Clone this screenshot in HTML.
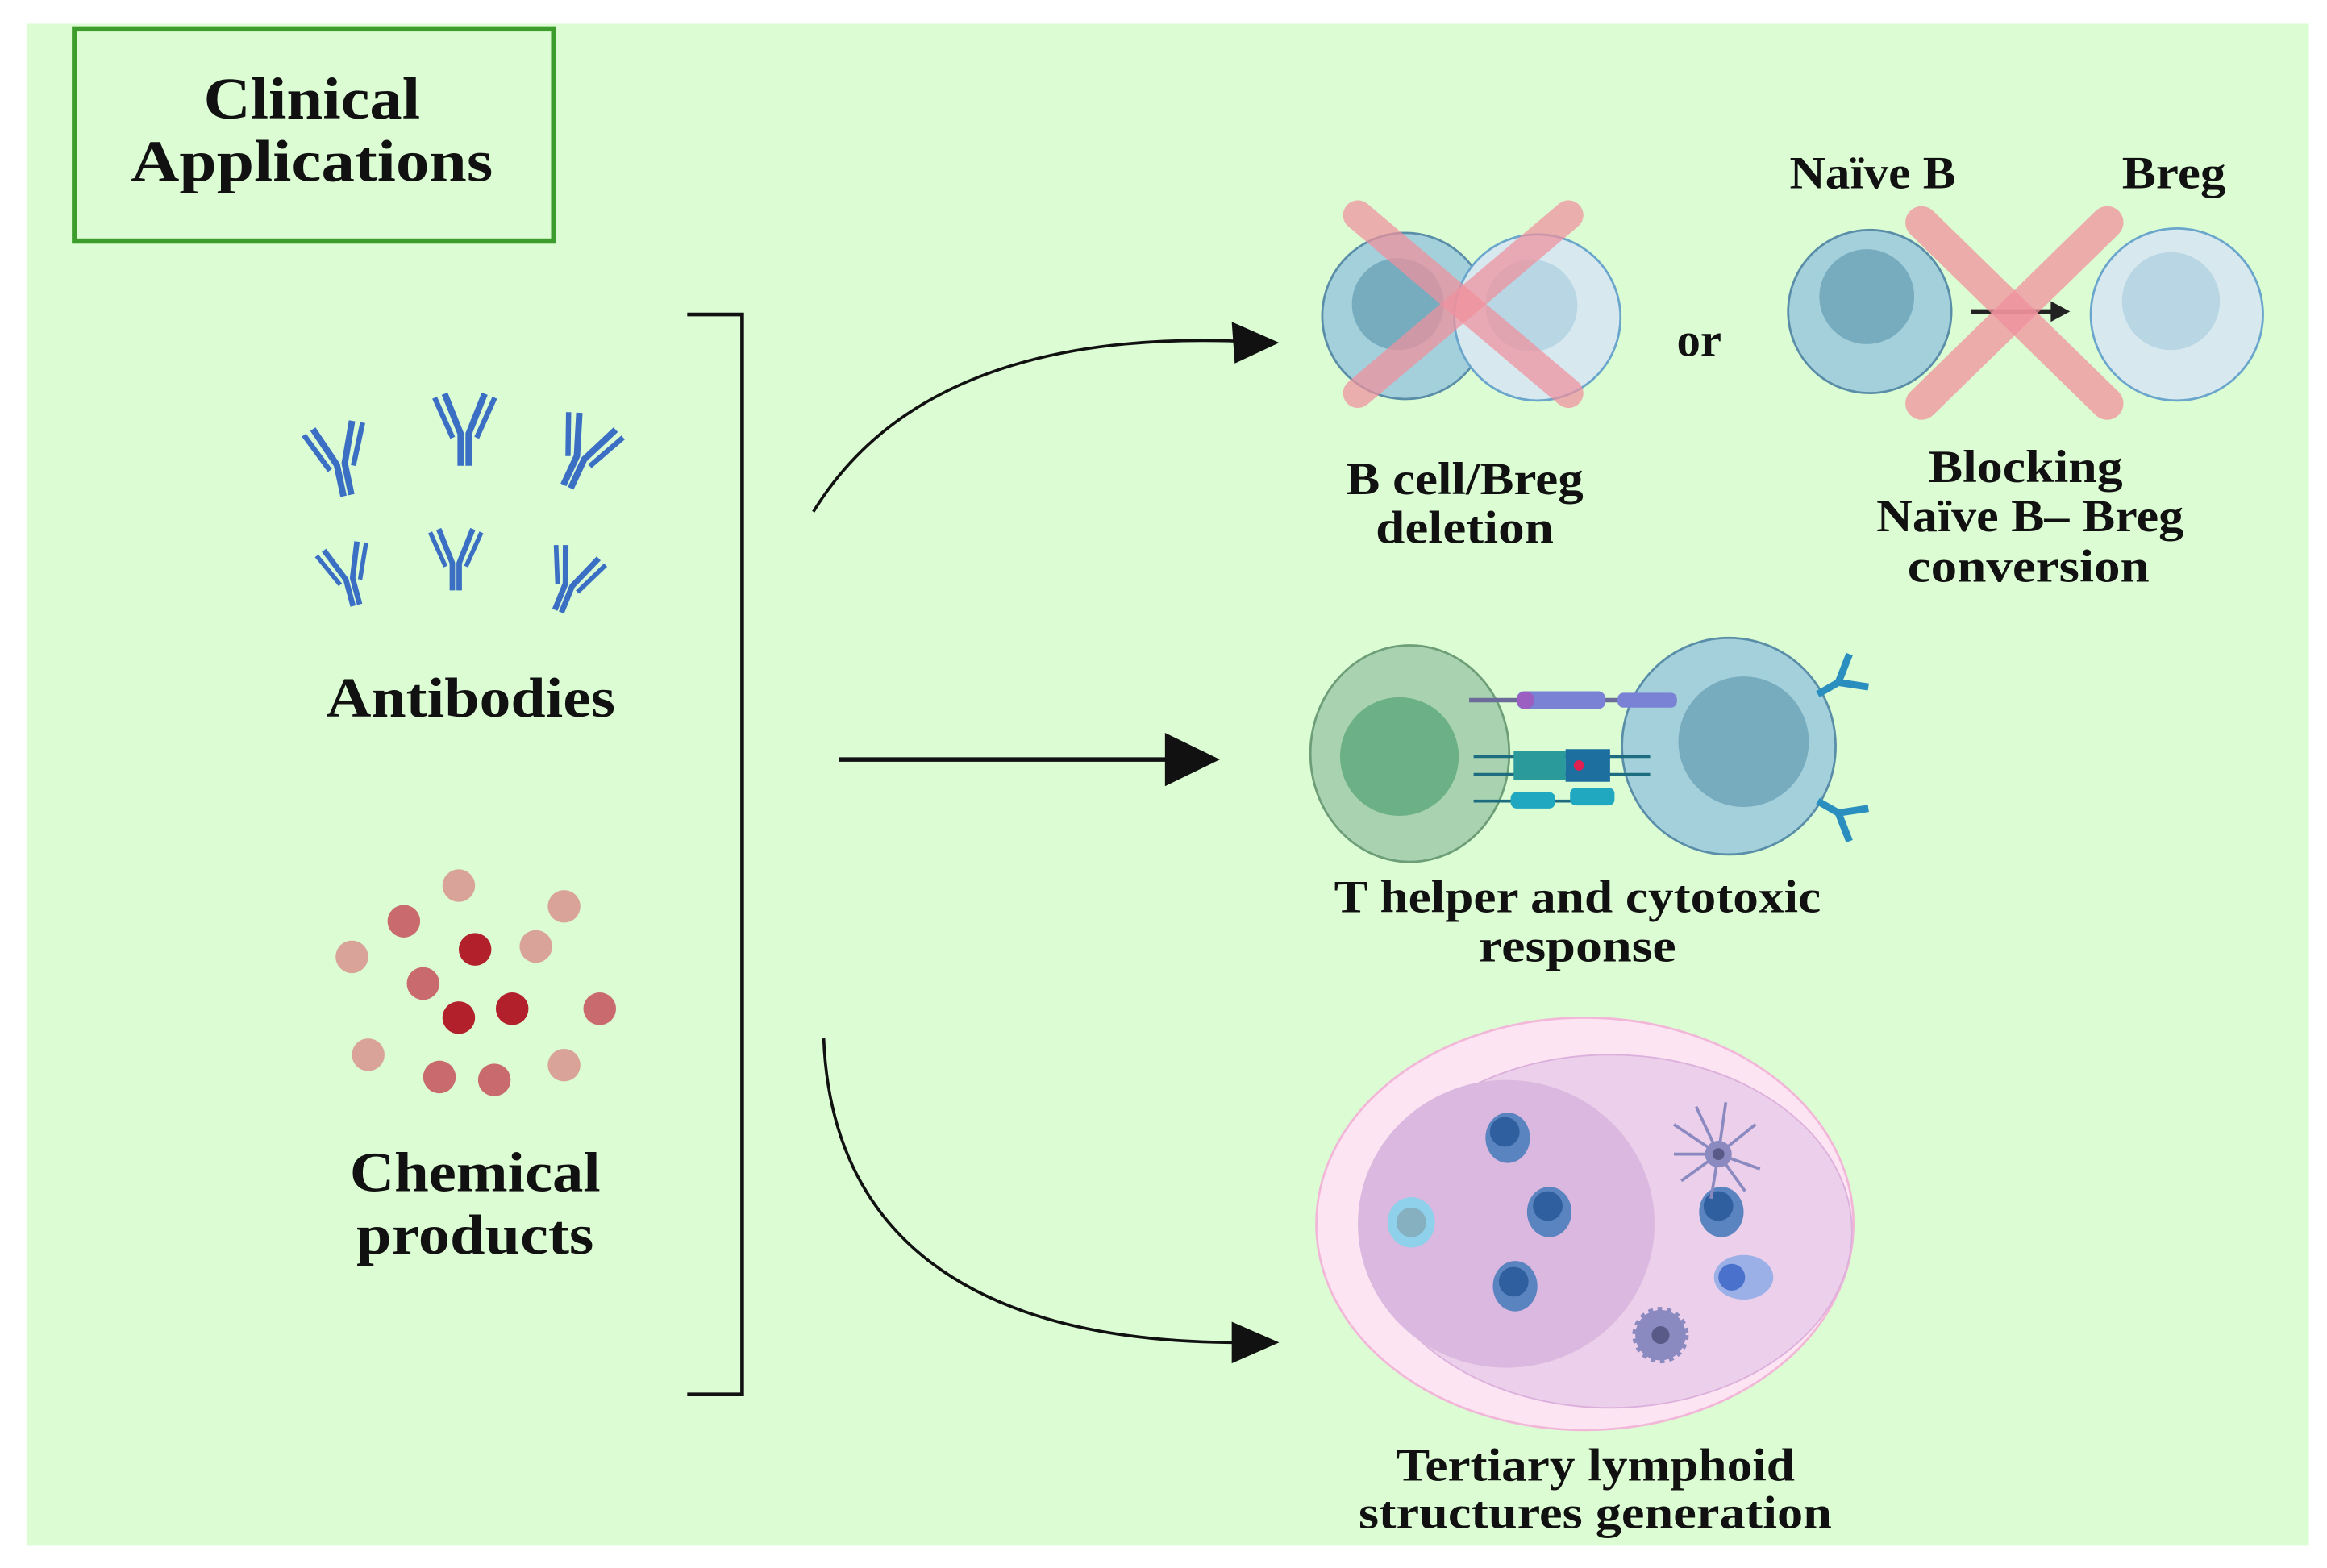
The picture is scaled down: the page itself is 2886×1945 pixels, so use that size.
<!DOCTYPE html>
<html><head><meta charset="utf-8"><style>
html,body{margin:0;padding:0;background:#fff;}
svg{display:block;}
text{font-family:"Liberation Serif",serif;fill:#111;text-anchor:middle;}
</style></head><body>
<svg width="2886" height="1945" viewBox="0 0 1568 1057" xmlns="http://www.w3.org/2000/svg">
<defs>
<g id="ab">
 <path d="M-2,0 L-2,-16 L-10,-36 M2,0 L2,-16 L10,-36" stroke="#3b6fc4" stroke-width="3.2" fill="none" stroke-linejoin="round"/>
 <path d="M-6,-14 L-15,-34 M6,-14 L15,-34" stroke="#3b6fc4" stroke-width="2.6" fill="none"/>
</g>
<g id="sab">
 <path d="M0,0 L0,-10 L-8,-20 M0,-10 L8,-20" stroke="#2a8fbf" stroke-width="3" fill="none"/>
</g>
</defs>
<rect x="18" y="16" width="1538" height="1026" fill="#dcfdd4"/>
<rect x="50" y="19.5" width="323" height="143" fill="none" stroke="#3c9c2c" stroke-width="3.5"/>
<text x="210" y="80" font-size="40" font-weight="bold" textLength="146" lengthAdjust="spacingAndGlyphs">Clinical</text>
<text x="210" y="122" font-size="40" font-weight="bold" textLength="244" lengthAdjust="spacingAndGlyphs">Applications</text>

<path d="M463,212 H500 V940 H463" fill="none" stroke="#111" stroke-width="2.5"/>

<!-- antibodies -->
<g transform="translate(234,334) rotate(-12) scale(1.35)"><use href="#ab"/></g>
<g transform="translate(313,314) scale(1.35)"><use href="#ab"/></g>
<g transform="translate(382,328) rotate(25) scale(1.35)"><use href="#ab"/></g>
<g transform="translate(240,408) rotate(-15) scale(1.15)"><use href="#ab"/></g>
<g transform="translate(307,398) scale(1.15)"><use href="#ab"/></g>
<g transform="translate(376,412) rotate(22) scale(1.2)"><use href="#ab"/></g>
<text x="317" y="483" font-size="38" font-weight="bold" textLength="195" lengthAdjust="spacingAndGlyphs">Antibodies</text>

<!-- chemical dots -->
<g>
<circle cx="309" cy="597" r="11" fill="#d9a39a"/>
<circle cx="380" cy="611" r="11" fill="#d9a39a"/>
<circle cx="272" cy="621" r="11" fill="#c96a6e"/>
<circle cx="237" cy="645" r="11" fill="#d9a39a"/>
<circle cx="320" cy="640" r="11" fill="#b2202c"/>
<circle cx="361" cy="638" r="11" fill="#d9a39a"/>
<circle cx="285" cy="663" r="11" fill="#c96a6e"/>
<circle cx="309" cy="686" r="11" fill="#b2202c"/>
<circle cx="345" cy="680" r="11" fill="#b2202c"/>
<circle cx="404" cy="680" r="11" fill="#c96a6e"/>
<circle cx="248" cy="711" r="11" fill="#d9a39a"/>
<circle cx="296" cy="726" r="11" fill="#c96a6e"/>
<circle cx="333" cy="728" r="11" fill="#c96a6e"/>
<circle cx="380" cy="718" r="11" fill="#d9a39a"/>
</g>
<text x="320" y="803" font-size="38" font-weight="bold" textLength="169" lengthAdjust="spacingAndGlyphs">Chemical</text>
<text x="320" y="845" font-size="38" font-weight="bold" textLength="160" lengthAdjust="spacingAndGlyphs">products</text>

<!-- arrows -->
<path d="M548,345 C600,260 700,225 835,230" fill="none" stroke="#111" stroke-width="2"/>
<polygon points="862,231 830,217 832,245" fill="#111"/>
<path d="M565,512 H795" fill="none" stroke="#111" stroke-width="3"/>
<polygon points="822,512 785,494 785,530" fill="#111"/>
<path d="M555,700 C560,830 650,905 835,905" fill="none" stroke="#111" stroke-width="2"/>
<polygon points="862,905 830,891 830,919" fill="#111"/>

<!-- deletion cells -->
<circle cx="947" cy="213" r="56" fill="#a4d0dc" stroke="#5a8ea8" stroke-width="1.5"/>
<circle cx="942" cy="205" r="31" fill="#77abbe"/>
<circle cx="1036" cy="214" r="56" fill="#d8e8ef" stroke="#6aa6cc" stroke-width="1.5"/>
<circle cx="1032" cy="206" r="31" fill="#b8d6e4"/>
<g stroke="#f0909c" stroke-opacity="0.72" stroke-width="20" stroke-linecap="round">
<line x1="915" y1="145" x2="1057" y2="265"/><line x1="1057" y1="145" x2="915" y2="265"/>
</g>
<text x="1145" y="240" font-size="32" font-weight="bold">or</text>
<!-- naive B / Breg -->
<circle cx="1260" cy="210" r="55" fill="#a4d0dc" stroke="#5a8ea8" stroke-width="1.5"/>
<circle cx="1258" cy="200" r="32" fill="#77abbe"/>
<circle cx="1467" cy="212" r="58" fill="#d8e8ef" stroke="#6aa6cc" stroke-width="1.5"/>
<circle cx="1463" cy="203" r="33" fill="#b8d6e4"/>
<line x1="1328" y1="210" x2="1385" y2="210" stroke="#222" stroke-width="3"/>
<polygon points="1395,210 1382,203 1382,217" fill="#222"/>
<g stroke="#f0909c" stroke-opacity="0.75" stroke-width="22" stroke-linecap="round">
<line x1="1295" y1="150" x2="1420" y2="272"/><line x1="1420" y1="150" x2="1295" y2="272"/>
</g>
<text x="1262" y="127" font-size="31" font-weight="bold" textLength="112" lengthAdjust="spacingAndGlyphs">Naïve B</text>
<text x="1465" y="127" font-size="31" font-weight="bold" textLength="70" lengthAdjust="spacingAndGlyphs">Breg</text>
<text x="987" y="333" font-size="31" font-weight="bold" textLength="160" lengthAdjust="spacingAndGlyphs">B cell/Breg</text>
<text x="987" y="366" font-size="31" font-weight="bold" textLength="120" lengthAdjust="spacingAndGlyphs">deletion</text>
<text x="1365" y="325" font-size="31" font-weight="bold" textLength="131" lengthAdjust="spacingAndGlyphs">Blocking</text>
<text x="1368" y="358" font-size="31" font-weight="bold" textLength="207" lengthAdjust="spacingAndGlyphs">Naïve B– Breg</text>
<text x="1367" y="392" font-size="31" font-weight="bold" textLength="163" lengthAdjust="spacingAndGlyphs">conversion</text>

<!-- T cell interaction -->
<ellipse cx="950" cy="508" rx="67" ry="73" fill="#a9d3b0" stroke="#6e9e78" stroke-width="1.5"/>
<circle cx="943" cy="510" r="40" fill="#6bb086"/>
<ellipse cx="1165" cy="503" rx="72" ry="73" fill="#a4d0dc" stroke="#5a8ea8" stroke-width="1.5"/>
<circle cx="1175" cy="500" r="44" fill="#77abbe"/>
<g>
<line x1="990" y1="472" x2="1130" y2="472" stroke="#6c6c9a" stroke-width="3"/>
<rect x="1022" y="466" width="60" height="12" rx="5" fill="#7a82d6"/>
<circle cx="1028" cy="472" r="6" fill="#9a5fc0"/>
<rect x="1090" y="467" width="40" height="10" rx="4" fill="#7a82d6"/>
<line x1="993" y1="510" x2="1112" y2="510" stroke="#1e6c80" stroke-width="2"/>
<line x1="993" y1="522" x2="1112" y2="522" stroke="#1e6c80" stroke-width="2"/>
<rect x="1020" y="506" width="35" height="20" fill="#2a9a9a"/>
<rect x="1055" y="505" width="30" height="22" fill="#1d6fa0"/>
<circle cx="1064" cy="516" r="3.5" fill="#e02050"/>
<line x1="993" y1="540" x2="1080" y2="540" stroke="#1e6c80" stroke-width="2"/>
<rect x="1018" y="534" width="30" height="11" rx="4" fill="#20a8c0"/>
<rect x="1058" y="531" width="30" height="12" rx="4" fill="#20a8c0"/>
</g>
<g transform="translate(1225,468) rotate(60) scale(1.6)"><use href="#sab"/></g>
<g transform="translate(1225,540) rotate(120) scale(1.6)"><use href="#sab"/></g>
<text x="1063" y="615" font-size="31" font-weight="bold" textLength="328" lengthAdjust="spacingAndGlyphs">T helper and cytotoxic</text>
<text x="1063" y="648" font-size="31" font-weight="bold" textLength="133" lengthAdjust="spacingAndGlyphs">response</text>

<!-- TLS -->
<ellipse cx="1068" cy="825" rx="181" ry="139" fill="#fde4f3" stroke="#f2b6d8" stroke-width="1.5"/>
<ellipse cx="1085" cy="830" rx="163" ry="119" fill="#eccfea" stroke="#dcb0dc" stroke-width="1"/>
<ellipse cx="1015" cy="825" rx="100" ry="97" fill="#dbb8df"/>
<g fill="#5a84c0">
<ellipse cx="1016" cy="767" rx="15" ry="17"/><ellipse cx="1044" cy="817" rx="15" ry="17"/>
<ellipse cx="1021" cy="867" rx="15" ry="17"/><ellipse cx="1160" cy="817" rx="15" ry="17"/>
</g>
<g fill="#2f5f9e">
<circle cx="1014" cy="763" r="10"/><circle cx="1043" cy="813" r="10"/>
<circle cx="1020" cy="864" r="10"/><circle cx="1158" cy="813" r="10"/>
</g>
<ellipse cx="951" cy="824" rx="16" ry="17" fill="#8fd0ea"/>
<circle cx="951" cy="824" r="10" fill="#86b0c0"/>
<ellipse cx="1175" cy="861" rx="20" ry="15" fill="#9ab0e6"/>
<circle cx="1167" cy="861" r="9" fill="#4a72cc"/>
<g stroke="#8a8ac0" stroke-width="2" fill="none">
<path d="M1158,778 l-30,-20 M1158,778 l-15,-32 M1158,778 l5,-35 M1158,778 l25,-20 M1158,778 l28,10 M1158,778 l18,25 M1158,778 l-5,30 M1158,778 l-25,18 M1158,778 l-30,0"/>
</g>
<circle cx="1158" cy="778" r="9" fill="#8a8ac0"/><circle cx="1158" cy="778" r="4" fill="#5a5a88"/>
<circle cx="1119" cy="900" r="17" fill="#8a8ac0" stroke="#8a8ac0" stroke-width="4" stroke-dasharray="3 3"/>
<circle cx="1119" cy="900" r="6" fill="#5a5a88"/>
<text x="1075" y="998" font-size="31" font-weight="bold" textLength="269" lengthAdjust="spacingAndGlyphs">Tertiary lymphoid</text>
<text x="1075" y="1030" font-size="31" font-weight="bold" textLength="319" lengthAdjust="spacingAndGlyphs">structures generation</text>
</svg>
</body></html>
